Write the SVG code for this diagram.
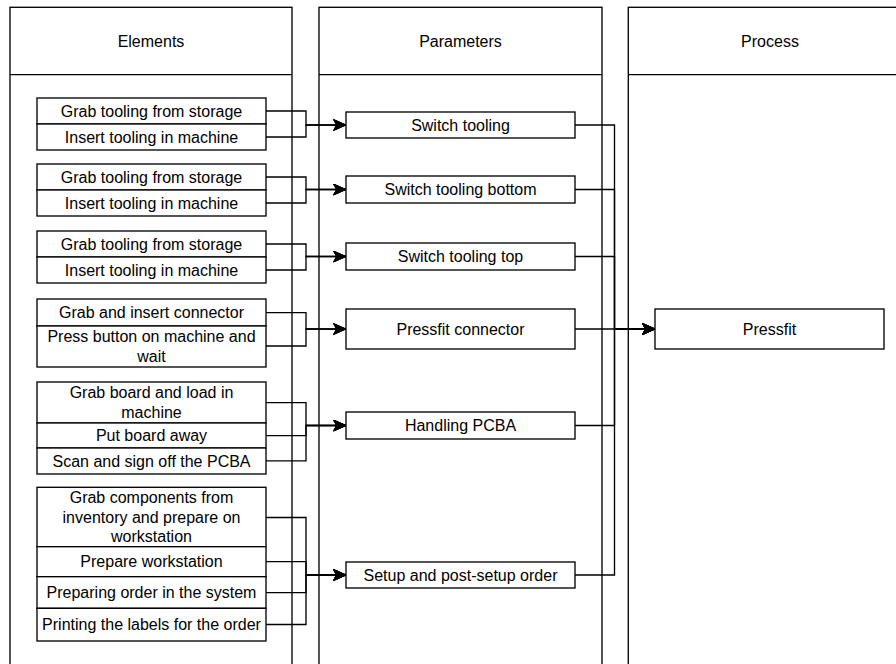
<svg xmlns="http://www.w3.org/2000/svg" width="896" height="664" viewBox="0 0 896 664">
  <style>
    .lane { fill: #ffffff; stroke: #000000; stroke-width: 1.33; }
    .box { fill: #ffffff; stroke: #000000; stroke-width: 1.33; }
    .edge { fill: none; stroke: #000000; stroke-width: 1.33; marker-end: url(#arrow); }
    text { font-family: "Liberation Sans", Arial, Helvetica, sans-serif; font-size: 16px; fill: #000000; text-anchor: middle; }
  </style>
  <defs>
    <marker id="arrow" viewBox="-13 -6 14 12" markerWidth="14" markerHeight="12" refX="0" refY="0" orient="auto" markerUnits="userSpaceOnUse">
      <path d="M0,0 L-12.5,-5.5 L-9.4,0 L-12.5,5.5 Z" fill="#000000" stroke="#000000" stroke-width="1"/>
    </marker>
  </defs>
  <rect width="896" height="664" fill="#ffffff"/>

  <!-- swimlanes -->
  <g id="lane-elements">
    <rect class="lane" x="10" y="7.3" width="282" height="680"/>
    <line class="lane" x1="10" y1="74.7" x2="292" y2="74.7"/>
    <text x="151" y="46.5">Elements</text>
  </g>
  <g id="lane-parameters">
    <rect class="lane" x="319" y="7.3" width="283" height="680"/>
    <line class="lane" x1="319" y1="74.7" x2="602" y2="74.7"/>
    <text x="460.5" y="46.5">Parameters</text>
  </g>
  <g id="lane-process">
    <rect class="lane" x="628.3" y="7.3" width="283" height="680"/>
    <line class="lane" x1="628.3" y1="74.7" x2="911.3" y2="74.7"/>
    <text x="770" y="46.5">Process</text>
  </g>

  <!-- connectors -->
  <g id="connectors">
    <path class="edge" d="M266,111 H306 V125 H346"/>
    <path class="edge" d="M266,137 H306 V125 H346"/>
    <path class="edge" d="M266,177 H306 V189.5 H346"/>
    <path class="edge" d="M266,203 H306 V189.5 H346"/>
    <path class="edge" d="M266,244 H306 V256.5 H346"/>
    <path class="edge" d="M266,270 H306 V256.5 H346"/>
    <path class="edge" d="M266,312.7 H306 V329 H346"/>
    <path class="edge" d="M266,346 H306 V329 H346"/>
    <path class="edge" d="M266,402.6 H306 V425.5 H346"/>
    <path class="edge" d="M266,435.6 H306 V425.5 H346"/>
    <path class="edge" d="M266,460.8 H306 V425.5 H346"/>
    <path class="edge" d="M266,517.5 H306 V575 H346"/>
    <path class="edge" d="M266,561.7 H306 V575 H346"/>
    <path class="edge" d="M266,592.6 H306 V575 H346"/>
    <path class="edge" d="M266,624.5 H306 V575 H346"/>
    <path class="edge" d="M575,125 H614.5 V329 H655"/>
    <path class="edge" d="M575,189.5 H614.5 V329 H655"/>
    <path class="edge" d="M575,256.5 H614.5 V329 H655"/>
    <path class="edge" d="M575,329 H655"/>
    <path class="edge" d="M575,425.5 H614.5 V329 H655"/>
    <path class="edge" d="M575,575 H614.5 V329 H655"/>
  </g>

  <!-- element groups -->
  <g id="el-tooling-1">
    <rect class="box" x="37" y="98" width="229" height="26"/>
    <text x="151.5" y="116.5">Grab tooling from storage</text>
    <rect class="box" x="37" y="124" width="229" height="26"/>
    <text x="151.5" y="142.5">Insert tooling in machine</text>
  </g>
  <g id="el-tooling-2">
    <rect class="box" x="37" y="164" width="229" height="26"/>
    <text x="151.5" y="182.5">Grab tooling from storage</text>
    <rect class="box" x="37" y="190" width="229" height="26"/>
    <text x="151.5" y="208.5">Insert tooling in machine</text>
  </g>
  <g id="el-tooling-3">
    <rect class="box" x="37" y="231" width="229" height="26"/>
    <text x="151.5" y="249.5">Grab tooling from storage</text>
    <rect class="box" x="37" y="257" width="229" height="26"/>
    <text x="151.5" y="275.5">Insert tooling in machine</text>
  </g>
  <g id="el-connector">
    <rect class="box" x="37" y="299" width="229" height="27"/>
    <text x="151.5" y="318">Grab and insert connector</text>
    <rect class="box" x="37" y="326" width="229" height="41"/>
    <text x="151.5" y="342.4">Press button on machine and</text>
    <text x="151.5" y="361.6">wait</text>
  </g>
  <g id="el-board">
    <rect class="box" x="37" y="382" width="229" height="41"/>
    <text x="151.5" y="398.4">Grab board and load in</text>
    <text x="151.5" y="417.6">machine</text>
    <rect class="box" x="37" y="423" width="229" height="25"/>
    <text x="151.5" y="441">Put board away</text>
    <rect class="box" x="37" y="448" width="229" height="26"/>
    <text x="151.5" y="466.5">Scan and sign off the PCBA</text>
  </g>
  <g id="el-setup">
    <rect class="box" x="37" y="487.3" width="229" height="59.4"/>
    <text x="151.5" y="503.3">Grab components from</text>
    <text x="151.5" y="522.5">inventory and prepare on</text>
    <text x="151.5" y="541.7">workstation</text>
    <rect class="box" x="37" y="546.7" width="229" height="30"/>
    <text x="151.5" y="567.2">Prepare workstation</text>
    <rect class="box" x="37" y="576.7" width="229" height="31.6"/>
    <text x="151.5" y="598">Preparing order in the system</text>
    <rect class="box" x="37" y="608.3" width="229" height="32.7"/>
    <text x="151.5" y="630.2">Printing the labels for the order</text>
  </g>

  <!-- parameters -->
  <g id="par-switch-tooling">
    <rect class="box" x="346" y="112" width="229" height="26"/>
    <text x="460.5" y="130.5">Switch tooling</text>
  </g>
  <g id="par-switch-bottom">
    <rect class="box" x="346" y="176" width="229" height="27"/>
    <text x="460.5" y="195">Switch tooling bottom</text>
  </g>
  <g id="par-switch-top">
    <rect class="box" x="346" y="243" width="229" height="27"/>
    <text x="460.5" y="262">Switch tooling top</text>
  </g>
  <g id="par-pressfit-connector">
    <rect class="box" x="346" y="309" width="229" height="40"/>
    <text x="460.5" y="334.5">Pressfit connector</text>
  </g>
  <g id="par-handling">
    <rect class="box" x="346" y="412" width="229" height="27"/>
    <text x="460.5" y="431">Handling PCBA</text>
  </g>
  <g id="par-setup">
    <rect class="box" x="346" y="562" width="229" height="26"/>
    <text x="460.5" y="580.5">Setup and post-setup order</text>
  </g>

  <!-- process -->
  <g id="proc-pressfit">
    <rect class="box" x="655" y="309" width="229" height="40"/>
    <text x="769.5" y="334.5">Pressfit</text>
  </g>
</svg>
